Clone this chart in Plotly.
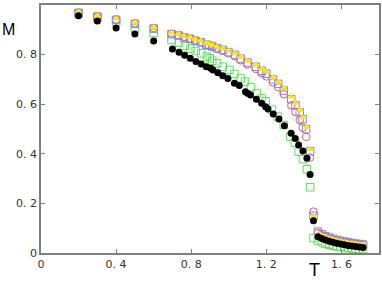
import plotly.graph_objects as go

# ---------------- data ----------------
T_low = [0.2, 0.3, 0.4, 0.5, 0.6]
T_tail = [1.475, 1.495, 1.515, 1.535, 1.555, 1.575, 1.595, 1.615, 1.635, 1.655, 1.675, 1.695, 1.715]

T_black = T_low + [0.70, 0.735, 0.765, 0.795, 0.825, 0.853, 0.88, 0.904, 0.916, 0.942, 0.968, 0.995,
                   1.03, 1.056, 1.089, 1.10, 1.116, 1.147, 1.175, 1.196, 1.209, 1.237, 1.267, 1.296,
                   1.332, 1.354, 1.372, 1.395, 1.416, 1.433, 1.451] + T_tail
M_black = [0.957, 0.935, 0.907, 0.883, 0.855,
           0.823, 0.809, 0.797, 0.785, 0.772, 0.762, 0.751, 0.745, 0.738, 0.727, 0.715, 0.704,
           0.684, 0.675, 0.650, 0.644, 0.637, 0.620, 0.604, 0.590, 0.581, 0.560, 0.540, 0.513,
           0.483, 0.462, 0.435, 0.411, 0.382, 0.317, 0.130,
           0.066, 0.058, 0.052, 0.047, 0.043, 0.039, 0.036, 0.033, 0.030, 0.028, 0.026, 0.024, 0.022]

T_green = T_low + [0.695, 0.735, 0.766, 0.796, 0.824, 0.853, 0.883, 0.899, 0.912, 0.938, 0.968, 1.004,
                   1.03, 1.063, 1.086, 1.118, 1.15, 1.175, 1.196, 1.23, 1.26, 1.293, 1.328, 1.352,
                   1.372, 1.395, 1.416, 1.433, 1.451] + T_tail
M_green = [0.965, 0.948, 0.93, 0.905, 0.887,
           0.859, 0.848, 0.835, 0.824, 0.815, 0.805, 0.792, 0.785, 0.775, 0.765, 0.751, 0.738,
           0.722, 0.704, 0.691, 0.668, 0.645, 0.625, 0.612, 0.578, 0.55, 0.516, 0.469, 0.445,
           0.408, 0.378, 0.338, 0.265, 0.060,
           0.050, 0.043, 0.037, 0.033, 0.029, 0.026, 0.024, 0.022, 0.020, 0.018, 0.017, 0.016, 0.015]

T_up = T_low + [0.695, 0.732, 0.761, 0.793, 0.822, 0.851, 0.880, 0.895, 0.912, 0.938, 0.968, 0.998,
                1.033, 1.063, 1.100, 1.144, 1.175, 1.200, 1.235, 1.263, 1.293, 1.333, 1.355, 1.378,
                1.393, 1.412, 1.433, 1.451] + T_tail
M_yellow = [0.973, 0.958, 0.945, 0.929, 0.91,
            0.888, 0.883, 0.875, 0.870, 0.862, 0.856, 0.846, 0.843, 0.839, 0.832, 0.825, 0.816,
            0.805, 0.790, 0.774, 0.758, 0.742, 0.731, 0.708, 0.690, 0.664, 0.630, 0.606, 0.577,
            0.546, 0.508, 0.417, 0.145,
            0.078, 0.070, 0.064, 0.058, 0.054, 0.050, 0.046, 0.043, 0.040, 0.038, 0.036, 0.034, 0.032]
M_blue = [0.968, 0.953, 0.940, 0.924, 0.905,
          0.882, 0.877, 0.869, 0.864, 0.856, 0.850, 0.840, 0.837, 0.833, 0.826, 0.819, 0.810,
          0.799, 0.784, 0.768, 0.751, 0.735, 0.723, 0.700, 0.682, 0.655, 0.620, 0.596, 0.567,
          0.540, 0.500, 0.410, 0.150,
          0.086, 0.076, 0.068, 0.062, 0.057, 0.053, 0.049, 0.046, 0.043, 0.040, 0.038, 0.036, 0.034]
M_red = [0.970, 0.955, 0.942, 0.926, 0.907,
         0.885, 0.879, 0.871, 0.865, 0.857, 0.850, 0.839, 0.836, 0.831, 0.823, 0.815, 0.805,
         0.793, 0.777, 0.760, 0.742, 0.725, 0.712, 0.688, 0.668, 0.640, 0.595, 0.568, 0.535,
         0.505, 0.468, 0.385, 0.167,
         0.082, 0.072, 0.065, 0.059, 0.055, 0.051, 0.047, 0.044, 0.041, 0.039, 0.037, 0.035, 0.033]

x_ticks = [0, 0.4, 0.8, 1.2, 1.6]
x_ticktext = ["0", "0. 4", "0. 8", "1. 2", "1. 6"]
y_ticks = [0, 0.2, 0.4, 0.6, 0.8, 1]
y_ticktext = ["0", "0. 2", "0. 4", "0. 6", "0. 8", "1"]

# ---------------- figure ----------------
fig = go.Figure()
fig.add_trace(go.Scatter(x=T_green, y=M_green, mode="markers",
                         marker=dict(symbol="square-open", size=7.5, color="#5de05d", line=dict(width=1))))
fig.add_trace(go.Scatter(x=T_up, y=M_red, mode="markers",
                         marker=dict(symbol="circle-open", size=7.5, color="#f05a5a", line=dict(width=1))))
fig.add_trace(go.Scatter(x=T_up, y=M_blue, mode="markers",
                         marker=dict(symbol="square-open", size=7.5, color="#8080ff", line=dict(width=1))))
fig.add_trace(go.Scatter(x=T_up, y=M_yellow, mode="markers",
                         marker=dict(symbol="triangle-up", size=7, color="#ffe800", line=dict(width=0))))
fig.add_trace(go.Scatter(x=T_black, y=M_black, mode="markers",
                         marker=dict(symbol="circle", size=7, color="#000000", line=dict(width=0))))

axis_common = dict(showgrid=False, zeroline=False, showline=True, linecolor="#808080", linewidth=1.5,
                   mirror="ticks", ticks="inside", ticklen=4, tickcolor="#808080", tickwidth=1,
                   tickfont=dict(family="DejaVu Sans", size=11, color="#333333"))

fig.update_layout(
    width=382, height=281,
    margin=dict(l=41, r=1, t=5, b=28),
    paper_bgcolor="white", plot_bgcolor="white",
    showlegend=False,
    xaxis=dict(range=[0, 1.8], tickvals=x_ticks, ticktext=x_ticktext, **axis_common),
    yaxis=dict(range=[0, 1], tickvals=y_ticks, ticktext=y_ticktext, **axis_common),
    annotations=[
        dict(text="M", xref="paper", yref="paper", x=-0.097, y=0.9, xanchor="center", yanchor="middle",
             showarrow=False, font=dict(family="Liberation Sans", size=16, color="#000000")),
        dict(text="T", xref="paper", yref="paper", x=0.809, y=-0.07, xanchor="center", yanchor="middle",
             showarrow=False, font=dict(family="Liberation Sans", size=18, color="#000000")),
    ],
)

fig.write_html("out.html", config={"displayModeBar": False},
               post_script="document.body.style.margin='0';document.body.style.overflow='hidden';")
